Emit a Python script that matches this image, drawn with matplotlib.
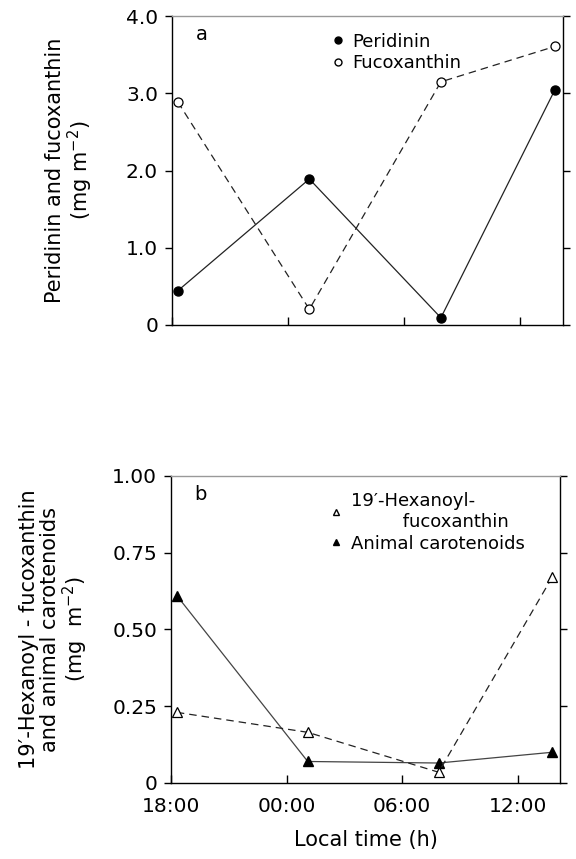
import numpy as np
import matplotlib
matplotlib.use('Agg')
import matplotlib.pyplot as plt
from matplotlib.lines import Line2D

# sampling times, hours after 18:00
hours = [0.3, 7.1, 13.9, 19.8]

peridinin = [0.44, 1.89, 0.09, 3.05]
fucoxanthin = [2.89, 0.20, 3.15, 3.61]

hexanoyl = [0.23, 0.165, 0.035, 0.67]
animal = [0.61, 0.07, 0.065, 0.10]

xtick_pos = [0, 6, 12, 18]
xtick_labels = ['18:00', '00:00', '06:00', '12:00']

plt.rcParams['font.family'] = ['DejaVu Sans']
fig = plt.figure(figsize=(5.76, 8.59), dpi=100)

axa = fig.add_axes([0.2986, 0.622, 0.6784, 0.359])
axb = fig.add_axes([0.297, 0.0885, 0.675, 0.3575])

lw = 0.9
ms = 6.5

axa.plot(hours, peridinin, '-', color='#222222', lw=lw, marker='o', ms=ms,
         mfc='black', mec='black')
axa.plot(hours, fucoxanthin, '--', color='#222222', lw=lw, dashes=(6, 4),
         marker='o', ms=ms, mfc='white', mec='black', mew=0.9)

axb.plot(hours, animal, '-', color='#444444', lw=lw, marker='^', ms=ms,
         mfc='black', mec='black')
axb.plot(hours, hexanoyl, '--', color='#222222', lw=lw, dashes=(6, 4),
         marker='^', ms=ms, mfc='white', mec='black', mew=0.9)

for ax in (axa, axb):
    ax.set_xlim(0, 20.2)
    ax.set_xticks(xtick_pos)
    for s in ax.spines.values():
        s.set_linewidth(1.0)
    ax.spines['top'].set_color('#999999')
    ax.tick_params(axis='y', direction='out', length=5, width=1.0,
                   labelsize=14.5, right=True, pad=5)
    ax.tick_params(axis='x', direction='in', length=6, width=1.0, labelsize=14.5)

axa.set_ylim(0, 4.0)
axa.set_yticks([0, 1, 2, 3, 4])
axa.set_yticklabels(['0', '1.0', '2.0', '3.0', '4.0'])
axa.set_xticklabels([])
axa.set_ylabel('Peridinin and fucoxanthin\n(mg m$^{-2}$)', fontsize=15,
               linespacing=1.05, labelpad=22)
axa.text(0.06, 0.94, 'a', transform=axa.transAxes, fontsize=14, va='center')

axb.set_ylim(0, 1.0)
axb.set_yticks([0, 0.25, 0.5, 0.75, 1.0])
axb.set_yticklabels(['0', '0.25', '0.50', '0.75', '1.00'])
axb.set_xticklabels(xtick_labels)
axb.tick_params(axis='x', pad=10)
axb.set_xlabel('Local time (h)', fontsize=15, labelpad=10)
axb.set_ylabel("19\u2032-Hexanoyl - fucoxanthin\nand animal carotenoids\n(mg  m$^{-2}$)",
               fontsize=15, linespacing=1.05, labelpad=16)
axb.text(0.06, 0.94, 'b', transform=axb.transAxes, fontsize=14, va='center')

ha = [Line2D([], [], ls='none', marker='o', ms=5, mfc='black', mec='black'),
      Line2D([], [], ls='none', marker='o', ms=5, mfc='white', mec='black')]
axa.legend(ha, ['Peridinin', 'Fucoxanthin'], loc='upper left',
           bbox_to_anchor=(0.36, 1.0), frameon=False, fontsize=13,
           handletextpad=0.3, labelspacing=0.2, handlelength=1.0)

hb = [Line2D([], [], ls='none', marker='^', ms=5, mfc='white', mec='black'),
      Line2D([], [], ls='none', marker='^', ms=5, mfc='black', mec='black')]
axb.legend(hb, ['19\u2032-Hexanoyl-\n         fucoxanthin', 'Animal carotenoids'],
           loc='upper left', bbox_to_anchor=(0.36, 1.0), frameon=False,
           fontsize=13, handletextpad=0.3, labelspacing=0.2, handlelength=1.0)

fig.savefig('out.png', dpi=100)
